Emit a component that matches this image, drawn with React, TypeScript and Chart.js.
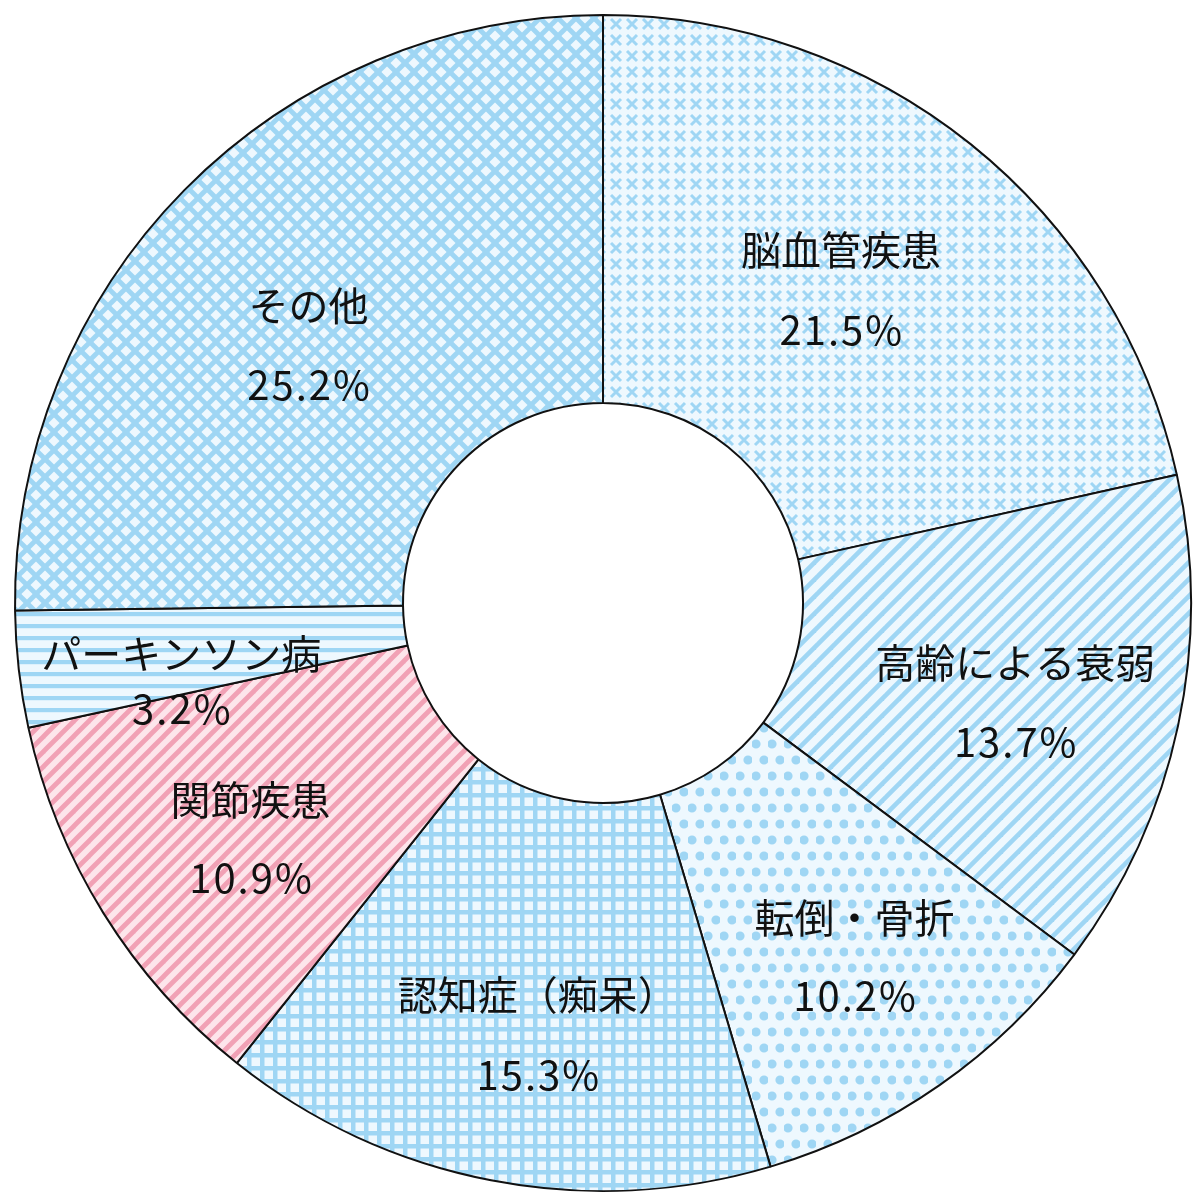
import React, { useEffect, useRef } from 'react';
import { Chart, registerables } from 'chart.js';

Chart.register(...registerables);

// ---- data ----
const categories = ['脳血管疾患', '高齢による衰弱', '転倒・骨折', '認知症（痴呆）', '関節疾患', 'パーキンソン病', 'その他'];
const values = [21.5, 13.7, 10.2, 15.3, 10.9, 3.2, 25.2];
const patternKinds = ['cross', 'diag', 'dots', 'grid', 'diagPink', 'hstripe', 'diamond'];

// ---- label layout (relative to each slice's mid angle) ----
const labelRadius = [393, 424, 434, 437, 424, 429, 391];
const labelAngleShift = [-1.45, 1.5, -0.5, -2.4, -1.9, -4.1, -3.5];
const labelLineGap = [80, 79, 78, 80, 78, 55, 79];

const BLUE = '#9fd6f4';
const BLUE_BG = '#eef8fe';
const PINK = '#f1a1b5';
const PINK_BG = '#fde5eb';

function makePattern(kind: string): CanvasPattern | string {
  const c = document.createElement('canvas');
  let ctx: CanvasRenderingContext2D;
  const diagTile = (size: number, bg: string, fg: string, w: number, both: boolean) => {
    c.width = size;
    c.height = size;
    ctx = c.getContext('2d')!;
    ctx.fillStyle = bg;
    ctx.fillRect(0, 0, size, size);
    ctx.strokeStyle = fg;
    ctx.lineWidth = w;
    ctx.lineCap = 'square';
    for (let k = -1; k <= 2; k++) {
      ctx.beginPath();
      ctx.moveTo(k * size - size, size + size);
      ctx.lineTo(k * size + size * 2, -size);
      ctx.stroke();
    }
    if (both) {
      for (let k = -2; k <= 2; k++) {
        ctx.beginPath();
        ctx.moveTo(k * size - size, -size);
        ctx.lineTo(k * size + 2 * size, 2 * size);
        ctx.stroke();
      }
    }
  };
  switch (kind) {
    case 'cross': {
      const s = 16;
      c.width = s;
      c.height = s;
      ctx = c.getContext('2d')!;
      ctx.fillStyle = BLUE_BG;
      ctx.fillRect(0, 0, s, s);
      ctx.strokeStyle = BLUE;
      ctx.lineWidth = 3;
      ctx.beginPath();
      ctx.moveTo(3, 3);
      ctx.lineTo(13, 13);
      ctx.moveTo(13, 3);
      ctx.lineTo(3, 13);
      ctx.stroke();
      break;
    }
    case 'diag':
      diagTile(17, BLUE_BG, BLUE, 4.6, false);
      break;
    case 'diagPink':
      diagTile(15, PINK_BG, PINK, 4.8, false);
      break;
    case 'diamond':
      diagTile(18, BLUE_BG, BLUE, 4.8, true);
      break;
    case 'dots': {
      c.width = 16;
      c.height = 32;
      ctx = c.getContext('2d')!;
      ctx.fillStyle = BLUE_BG;
      ctx.fillRect(0, 0, 16, 32);
      ctx.fillStyle = BLUE;
      ctx.beginPath();
      ctx.arc(4, 8, 4.6, 0, Math.PI * 2);
      ctx.arc(12, 24, 4.6, 0, Math.PI * 2);
      ctx.fill();
      break;
    }
    case 'grid': {
      const s = 13;
      c.width = s;
      c.height = s;
      ctx = c.getContext('2d')!;
      ctx.fillStyle = BLUE_BG;
      ctx.fillRect(0, 0, s, s);
      ctx.fillStyle = BLUE;
      ctx.fillRect(0, 0, s, 4.5);
      ctx.fillRect(0, 0, 4.5, s);
      break;
    }
    case 'hstripe': {
      c.width = 12;
      c.height = 12;
      ctx = c.getContext('2d')!;
      ctx.fillStyle = BLUE_BG;
      ctx.fillRect(0, 0, 12, 12);
      ctx.fillStyle = BLUE;
      ctx.fillRect(0, 0, 12, 4.2);
      break;
    }
    default:
      return BLUE;
  }
  const target = document.createElement('canvas').getContext('2d')!;
  return target.createPattern(c, 'repeat') || BLUE;
}

const labelPlugin = {
  id: 'sliceLabels',
  afterDatasetsDraw(chart: any) {
    const meta = chart.getDatasetMeta(0);
    const ctx: any = chart.ctx;
    ctx.save();
    ctx.fillStyle = '#111111';
    ctx.textAlign = 'center';
    ctx.textBaseline = 'middle';
    meta.data.forEach((arc: any, i: number) => {
      const { x, y, startAngle, endAngle } = arc.getProps(['x', 'y', 'startAngle', 'endAngle'], true);
      const a = (startAngle + endAngle) / 2 + (labelAngleShift[i] * Math.PI) / 180;
      const r = labelRadius[i];
      const cx = x + r * Math.cos(a);
      const cy = y + r * Math.sin(a);
      const g = labelLineGap[i] / 2;
      ctx.font = '40px "Noto Sans CJK JP"';
      ctx.letterSpacing = '0px';
      ctx.fillText(categories[i], cx, cy - g);
      ctx.letterSpacing = '2px';
      ctx.fillText(values[i].toFixed(1) + '%', cx + 1, cy + g);
    });
    ctx.restore();
  },
};

export default function App() {
  const ref = useRef<HTMLCanvasElement | null>(null);
  useEffect(() => {
    if (!ref.current) return;
    const outerR = 588;
    const innerR = 200;
    const chart = new Chart(ref.current, {
      type: 'doughnut',
      data: {
        labels: categories,
        datasets: [
          {
            data: values,
            backgroundColor: patternKinds.map((k) => makePattern(k)) as any,
            borderColor: '#111111',
            borderWidth: 2,
            borderAlign: 'center',
          },
        ],
      },
      options: {
        responsive: false,
        devicePixelRatio: 1,
        animation: false,
        events: [],
        radius: outerR,
        cutout: `${(innerR / outerR) * 100}%`,
        layout: { padding: { left: 6, top: 6, right: 0, bottom: 0 } },
        plugins: {
          legend: { display: false },
          tooltip: { enabled: false },
        },
      } as any,
      plugins: [labelPlugin],
    });
    return () => chart.destroy();
  }, []);
  return (
    <div style={{ position: 'absolute', left: 0, top: 0, width: 1200, height: 1200, background: '#ffffff' }}>
      <canvas ref={ref} width={1200} height={1200} style={{ width: 1200, height: 1200, display: 'block' }} />
    </div>
  );
}
